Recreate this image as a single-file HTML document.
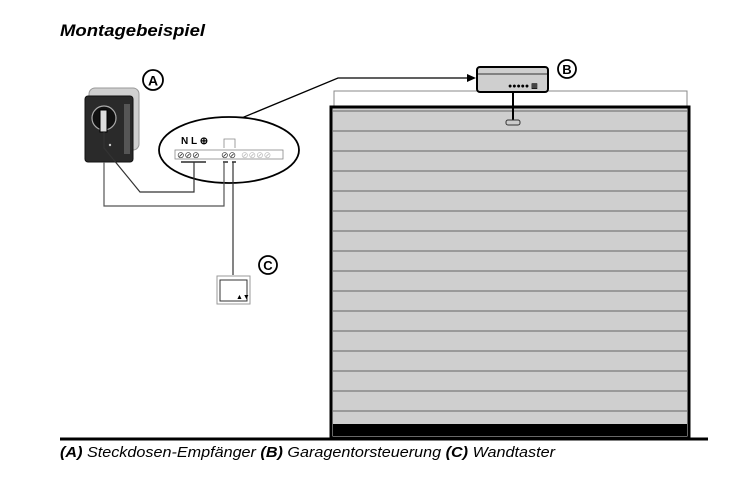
<!DOCTYPE html>
<html><head><meta charset="utf-8"><style>
body{margin:0;background:#fff;width:732px;height:472px;overflow:hidden;font-family:"Liberation Sans",sans-serif}
</style></head><body>
<svg width="732" height="472" viewBox="0 0 732 472" xmlns="http://www.w3.org/2000/svg" font-family="Liberation Sans, sans-serif">
<text x="60" y="36" font-size="17" font-weight="bold" font-style="italic" textLength="145" lengthAdjust="spacingAndGlyphs">Montagebeispiel</text>
<!-- plug A -->
<rect x="89" y="88" width="50" height="62" rx="6" fill="#d0d0d0" stroke="#999"/>
<rect x="85" y="96" width="48" height="66" rx="3" fill="#2a2a2a" stroke="#111"/>
<rect x="124" y="104" width="6" height="50" fill="#555"/>
<circle cx="104" cy="118" r="12" fill="#111" stroke="#aaa" stroke-width="1.2"/>
<rect x="100" y="110" width="7" height="22" fill="#ddd" stroke="#000"/>
<circle cx="110" cy="145" r="1.2" fill="#ccc"/>
<circle cx="153" cy="80" r="10" fill="#fff" stroke="#000" stroke-width="1.8"/>
<text x="153" y="85.5" font-size="14" font-weight="bold" text-anchor="middle">A</text>
<!-- ellipse -->
<path d="M232 122 L338 78 L472 78" fill="none" stroke="#000" stroke-width="1.3"/>
<path d="M476 78 L467 74 L467 82 Z" fill="#000"/>
<ellipse cx="229" cy="150" rx="70" ry="33" fill="#fff" stroke="#000" stroke-width="1.8"/>
<text x="181" y="144" font-size="10" font-weight="bold">N L ⊕</text>
<rect x="175" y="150" width="108" height="9" fill="#fff" stroke="#888" stroke-width="0.8"/>
<text x="177" y="158" font-size="9" fill="#333">⊘⊘⊘</text>
<text x="221" y="158" font-size="9" fill="#333">⊘⊘</text>
<text x="241" y="158" font-size="9" fill="#bbb">⊘⊘⊘⊘</text>
<path d="M224 148 V139 H235 V148" fill="none" stroke="#888" stroke-width="0.8"/>
<path d="M181 162 H206 M223 162 H228 M232 162 H236" stroke="#000" stroke-width="1.2"/>
<path d="M104 132 L104 148 L140 192 L194 192 L194 162" fill="none" stroke="#333" stroke-width="1.2"/>
<path d="M104 162 L104 206 L224 206 L224 162" fill="none" stroke="#555" stroke-width="1.2"/>
<path d="M233 162 L233 275" fill="none" stroke="#333" stroke-width="1.2"/>
<!-- C -->
<rect x="217" y="276" width="33" height="28" fill="#fff" stroke="#999"/>
<rect x="220" y="280" width="27" height="21" fill="#fff" stroke="#333"/>
<text x="236" y="299" font-size="7">▲▼</text>
<circle cx="268" cy="265" r="9" fill="#fff" stroke="#000" stroke-width="1.8"/>
<text x="268" y="270" font-size="13" font-weight="bold" text-anchor="middle">C</text>
<!-- door -->
<path d="M334 106 V91 H687 V106" fill="none" stroke="#888" stroke-width="1"/>
<rect x="331" y="107" width="358" height="331" fill="#cfcfcf" stroke="#000" stroke-width="3"/>
<g stroke="#666" stroke-width="1">
<line x1="333" y1="111" x2="687" y2="111"/>
<line x1="333" y1="131" x2="687" y2="131"/>
<line x1="333" y1="151" x2="687" y2="151"/>
<line x1="333" y1="171" x2="687" y2="171"/>
<line x1="333" y1="191" x2="687" y2="191"/>
<line x1="333" y1="211" x2="687" y2="211"/>
<line x1="333" y1="231" x2="687" y2="231"/>
<line x1="333" y1="251" x2="687" y2="251"/>
<line x1="333" y1="271" x2="687" y2="271"/>
<line x1="333" y1="291" x2="687" y2="291"/>
<line x1="333" y1="311" x2="687" y2="311"/>
<line x1="333" y1="331" x2="687" y2="331"/>
<line x1="333" y1="351" x2="687" y2="351"/>
<line x1="333" y1="371" x2="687" y2="371"/>
<line x1="333" y1="391" x2="687" y2="391"/>
<line x1="333" y1="411" x2="687" y2="411"/>
</g>
<rect x="333" y="424" width="354" height="12" fill="#000"/>
<line x1="60" y1="439" x2="708" y2="439" stroke="#000" stroke-width="3"/>
<!-- B -->
<line x1="513" y1="92" x2="513" y2="121" stroke="#000" stroke-width="2"/>
<rect x="506" y="120" width="14" height="5" rx="2" fill="#ccc" stroke="#333"/>
<rect x="477" y="67" width="71" height="25" rx="3" fill="#cfcfcf" stroke="#000" stroke-width="2"/>
<line x1="478" y1="74" x2="547" y2="74" stroke="#333"/>
<text x="508" y="88" font-size="7" font-weight="bold">●●●●● ▥</text>
<circle cx="567" cy="69" r="9" fill="#fff" stroke="#000" stroke-width="1.8"/>
<text x="567" y="74" font-size="13" font-weight="bold" text-anchor="middle">B</text>
<text x="60" y="457" font-size="14.5" font-style="italic" textLength="495" lengthAdjust="spacingAndGlyphs"><tspan font-weight="bold">(A)</tspan> Steckdosen-Empfänger  <tspan font-weight="bold">(B)</tspan> Garagentorsteuerung  <tspan font-weight="bold">(C)</tspan> Wandtaster</text>
</svg>
</body></html>
